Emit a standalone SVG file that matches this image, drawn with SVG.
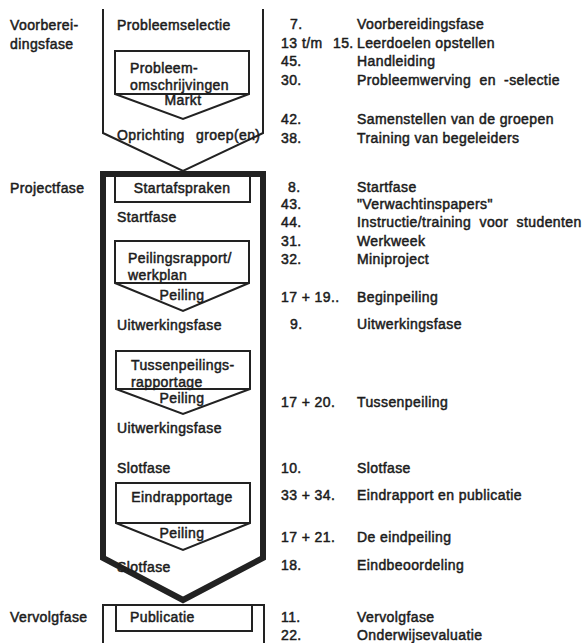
<svg xmlns="http://www.w3.org/2000/svg" width="588" height="643" viewBox="0 0 588 643">
  <style>
    text { font-family: "Liberation Sans", Arial, sans-serif; font-size: 14px; letter-spacing: 0.4px; fill: #1c1c1c; stroke: #1c1c1c; stroke-width: 0.5; }
    .mid { text-anchor: middle; }
    .wide { word-spacing: 4px; }
    .wider { word-spacing: 7px; }
    .thin { fill: none; stroke: #222; stroke-width: 2; stroke-linejoin: miter; }
    .thick { fill: none; stroke: #222; stroke-width: 6; stroke-linejoin: miter; }
  </style>
  <rect width="588" height="643" fill="#ffffff"/>

  <!-- phase labels, left column -->
  <g id="phase-labels">
    <text x="10" y="30">Voorberei-</text>
    <text x="10" y="49">dingsfase</text>
    <text x="10" y="193">Projectfase</text>
    <text x="10" y="622">Vervolgfase</text>
  </g>

  <!-- preparation phase: open chevron frame -->
  <g id="frame-voorbereiding">
    <path class="thin" d="M103,9 V133 L183,171 L263,133 V9"/>
    <text x="117" y="30">Probleemselectie</text>
    <text x="117" y="140" class="wider">Oprichting groep(en)</text>
  </g>

  <g id="box-probleemomschrijvingen">
    <path class="thin" d="M115,51 H249 V94 L183,119 L115,94 Z M115,94 H249"/>
    <text x="130" y="73">Probleem-</text>
    <text x="130" y="90">omschrijvingen</text>
    <text x="183" y="105" class="mid">Markt</text>
  </g>

  <!-- project phase: heavy chevron frame -->
  <g id="frame-project">
    <path class="thick" d="M103,174 H263 V558 L183,600 L103,558 Z"/>
    <text x="117" y="222">Startfase</text>
    <text x="117" y="330">Uitwerkingsfase</text>
    <text x="117" y="433">Uitwerkingsfase</text>
    <text x="117" y="473">Slotfase</text>
    <text x="117" y="572">Slotfase</text>
  </g>

  <g id="box-startafspraken">
    <path class="thin" d="M115,176 V202 H250 V176"/>
    <text x="182" y="193" class="mid">Startafspraken</text>
  </g>

  <g id="box-peilingsrapport">
    <path class="thin" d="M115,241 H249 V283 L183,311 L115,283 Z M115,283 H249"/>
    <text x="128" y="263">Peilingsrapport/</text>
    <text x="128" y="280">werkplan</text>
    <text x="182" y="300" class="mid">Peiling</text>
  </g>

  <g id="box-tussenpeiling">
    <path class="thin" d="M116,351 H250 V389 L183,414 L116,389 Z M116,389 H250"/>
    <text x="131" y="370">Tussenpeilings-</text>
    <text x="131" y="387">rapportage</text>
    <text x="182" y="403" class="mid">Peiling</text>
  </g>

  <g id="box-eindrapportage">
    <path class="thin" d="M116,483 H250 V523 L183,550 L116,523 Z M116,523 H250"/>
    <text x="182" y="502" class="mid">Eindrapportage</text>
    <text x="182" y="538" class="mid">Peiling</text>
  </g>

  <!-- follow-up phase: open-ended frame -->
  <g id="frame-vervolg">
    <path class="thin" d="M103,650 V605 H264 V650"/>
  </g>

  <g id="box-publicatie">
    <path class="thin" d="M116,605 V631 H252 V605"/>
    <text x="130" y="622">Publicatie</text>
  </g>

  <!-- chapter references -->
  <g id="references">
    <text x="290" y="29">7.</text><text x="357" y="29">Voorbereidingsfase</text>
    <text x="281" y="48">13</text><text x="302" y="48">t/m</text><text x="333" y="48">15.</text><text x="357" y="48">Leerdoelen opstellen</text>
    <text x="281" y="66">45.</text><text x="357" y="66">Handleiding</text>
    <text x="281" y="85">30.</text><text x="357" y="85" class="wide">Probleemwerving en -selectie</text>
    <text x="281" y="124">42.</text><text x="357" y="124">Samenstellen van de groepen</text>
    <text x="281" y="143">38.</text><text x="357" y="143">Training van begeleiders</text>

    <text x="288" y="192">8.</text><text x="357" y="192">Startfase</text>
    <text x="281" y="209">43.</text><text x="357" y="209">"Verwachtinspapers"</text>
    <text x="281" y="227">44.</text><text x="357" y="227" class="wide">Instructie/training voor studenten</text>
    <text x="281" y="246">31.</text><text x="357" y="246">Werkweek</text>
    <text x="281" y="264">32.</text><text x="357" y="264">Miniproject</text>
    <text x="281" y="302">17 + 19..</text><text x="357" y="302">Beginpeiling</text>
    <text x="290" y="329">9.</text><text x="357" y="329">Uitwerkingsfase</text>
    <text x="281" y="407">17 + 20.</text><text x="357" y="407">Tussenpeiling</text>
    <text x="281" y="473">10.</text><text x="357" y="473">Slotfase</text>
    <text x="281" y="500">33 + 34.</text><text x="357" y="500">Eindrapport en publicatie</text>
    <text x="281" y="542">17 + 21.</text><text x="357" y="542">De eindpeiling</text>
    <text x="281" y="570">18.</text><text x="357" y="570">Eindbeoordeling</text>

    <text x="281" y="622">11.</text><text x="357" y="622">Vervolgfase</text>
    <text x="281" y="640">22.</text><text x="357" y="640">Onderwijsevaluatie</text>
  </g>
</svg>
